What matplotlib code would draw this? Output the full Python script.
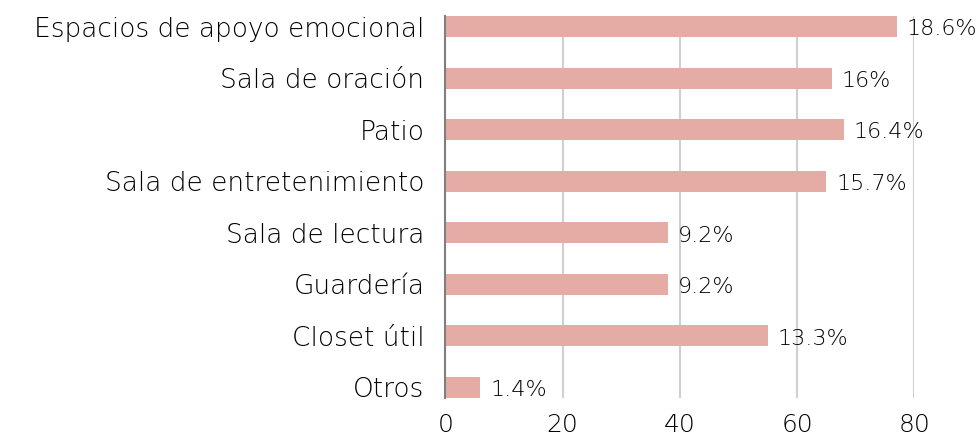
import matplotlib
matplotlib.use("Agg")
import matplotlib.pyplot as plt
from matplotlib.transforms import offset_copy

categories = ["Espacios de apoyo emocional", "Sala de oración", "Patio",
              "Sala de entretenimiento", "Sala de lectura", "Guardería",
              "Closet útil", "Otros"]
values = [77, 66, 68, 65, 38, 38, 55, 6]
labels = ["18.6%", "16%", "16.4%", "15.7%", "9.2%", "9.2%", "13.3%", "1.4%"]
xticks = [0, 20, 40, 60, 80]

plt.rcParams['font.family'] = ['DejaVu Sans']
plt.rcParams['font.weight'] = 'light'

W, H = 979, 441
fig = plt.figure(figsize=(W / 100, H / 100), dpi=100)
left, right, top, bottom = 445.3, 914.3, 16, 398
ax = fig.add_axes([left / W, 1 - bottom / H, (right - left) / W, (bottom - top) / H])

bh = 0.41
pos = list(range(len(categories)))
ax.barh(pos, values, height=bh, color="#E5ACA5", zorder=3)
ax.set_ylim(len(categories) - 1 + bh / 2, -bh / 2)
ax.set_xlim(0, 80)
ax.set_xticks(xticks)
ax.set_xticklabels([str(t) for t in xticks])
ax.set_yticks(pos)
ax.set_yticklabels(categories)

for s in ["top", "right", "bottom"]:
    ax.spines[s].set_visible(False)
ax.spines["left"].set_color("#7f7f7f")
ax.spines["left"].set_linewidth(1.5)
ax.spines["left"].set_zorder(4)
ax.grid(axis="x", color="#d0d0d0", linewidth=1.5, zorder=0)
ax.set_axisbelow(True)
ax.tick_params(axis="both", length=0, colors="#000000")
ax.tick_params(axis="y", pad=15, labelsize=19)
ax.tick_params(axis="x", pad=10.5, labelsize=18)

for p, v, lab in zip(pos, values, labels):
    tr = offset_copy(ax.transData, fig=fig, x=7, y=-2, units="points")
    ax.text(v, p, lab, transform=tr, ha="left", va="center", fontsize=16,
            color="#000000", zorder=5, clip_on=False)

fig.savefig("out.png", dpi=100)
